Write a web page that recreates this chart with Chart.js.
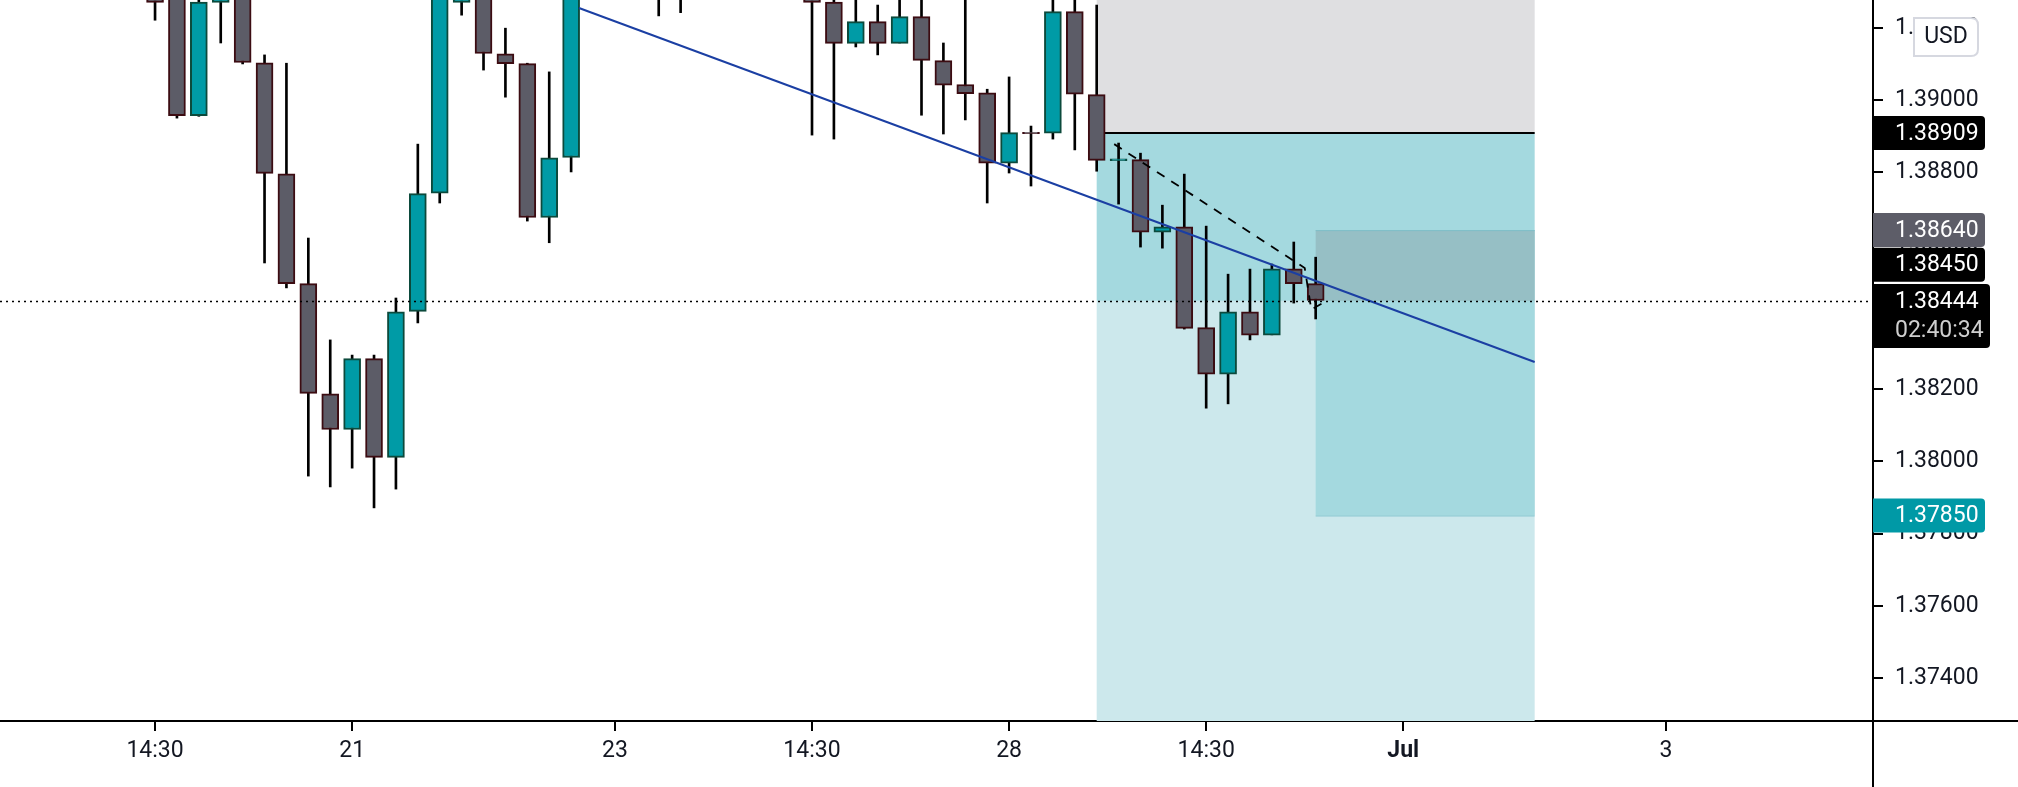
<!DOCTYPE html>
<html><head><meta charset="utf-8">
<script src="https://cdn.jsdelivr.net/npm/chart.js@4/dist/chart.umd.min.js"></script>
<style>html,body{margin:0;padding:0;background:#fff;overflow:hidden}canvas{display:block}</style>
</head><body><canvas id="c" width="2018" height="787"></canvas>
<script>
const opens  = [1.39285,1.39300,1.38958,1.39271,1.39320,1.39102,1.38795,1.38491,1.38186,1.38089,1.38283,1.38012,1.38416,1.38743,1.39271,1.39340,1.39127,1.39100,1.38676,1.38842,1.3935,1.3950,1.3960,1.3945,1.3935,1.3942,1.3950,1.3940,1.3948,1.3938,1.39290,1.39270,1.39158,1.39216,1.39158,1.39230,1.39108,1.39042,1.39019,1.38826,1.38910,1.38909,1.39244,1.39014,1.38833,1.38834,1.38635,1.38648,1.38369,1.38242,1.38413,1.38350,1.38532,1.38491];
const highs  = [1.39300,1.39320,1.39290,1.39300,1.39340,1.39125,1.39102,1.38618,1.38336,1.38294,1.38294,1.38452,1.38878,1.39320,1.39300,1.39360,1.39199,1.39102,1.39078,1.39350,1.3955,1.3965,1.3968,1.3950,1.3948,1.3958,1.3955,1.3953,1.3952,1.3945,1.3935,1.3935,1.39277,1.39263,1.39300,1.39300,1.39158,1.39290,1.39030,1.39064,1.38928,1.39300,1.39300,1.39263,1.38881,1.38853,1.38709,1.38795,1.38651,1.38518,1.38532,1.38546,1.38607,1.38565];
const lows   = [1.39221,1.38950,1.38955,1.39158,1.39100,1.38549,1.38480,1.37959,1.37929,1.37981,1.37871,1.37923,1.38383,1.38715,1.39235,1.39083,1.39008,1.38665,1.38605,1.38801,1.3930,1.3940,1.3935,1.39233,1.39242,1.3936,1.3934,1.3933,1.3930,1.3928,1.38903,1.38892,1.39147,1.39125,1.39158,1.38958,1.38906,1.38945,1.38715,1.38798,1.38762,1.38892,1.38862,1.38803,1.38712,1.38593,1.38590,1.38366,1.38147,1.38159,1.38336,1.38350,1.38438,1.38394];
const closes = [1.39271,1.38958,1.39270,1.39285,1.39105,1.38798,1.38493,1.38189,1.38089,1.38283,1.38012,1.38413,1.38740,1.39300,1.39285,1.39130,1.39102,1.38676,1.38839,1.39330,1.3950,1.3960,1.3945,1.3935,1.3942,1.3950,1.3940,1.3948,1.3938,1.3932,1.39271,1.39158,1.39216,1.39158,1.39230,1.39111,1.39042,1.39019,1.38826,1.38909,1.38908,1.39244,1.39017,1.38834,1.38836,1.38635,1.38648,1.38369,1.38242,1.38413,1.38350,1.38532,1.38493,1.38446];
const xTickPos = [0,9,21,30,39,48,57,69];
const xTickLabels = ['14:30','21','23','14:30','28','14:30','Jul','3'];
const yTicks = [1.374,1.376,1.378,1.380,1.382,1.384,1.386,1.388,1.390,1.392];
const trendX = [19.36,63.0], trendY = [1.39255,1.38275];
const dashX = [43.8,52.5,52.8,53.5], dashY = [1.38878,1.38535,1.38420,1.38444];
const posStart = 43.0, posEnd = 63.0, stopLevel = 1.39500, entryLevel = 1.38909, targetLevel = 1.37281;
const pos2Start = 53.0, pos2Top = 1.38640, pos2Bottom = 1.37850;
const currentPrice = 1.38444, countdown = '02:40:34';
const priceTags = [[1.38909,'1.38909','#000000',0],[1.38640,'1.38640','#5d5d68',0],[1.38450,'1.38450','#000000',-34],[1.37850,'1.37850','#0099a6',0]];

const idx = opens.map((_,i)=>i);
const bull = idx.map(i=>closes[i]>=opens[i]);
const FONT = 'Roboto';

function roundRect(ctx,x,y,w,h,r){ctx.beginPath();ctx.moveTo(x,y);ctx.lineTo(x+w-r,y);ctx.quadraticCurveTo(x+w,y,x+w,y+r);ctx.lineTo(x+w,y+h-r);ctx.quadraticCurveTo(x+w,y+h,x+w-r,y+h);ctx.lineTo(x,y+h);ctx.closePath();}

const bgPlugin = {
  id:'bg',
  beforeDatasetsDraw(ch){
    const {ctx, chartArea:a, scales:{x,y}} = ch;
    ctx.save();
    ctx.beginPath(); ctx.rect(a.left,a.top,a.right-a.left,a.bottom-a.top); ctx.clip();
    const x1=x.getPixelForValue(posStart), x2=x.getPixelForValue(posEnd);
    const yS=y.getPixelForValue(stopLevel), yE=y.getPixelForValue(entryLevel), yC=y.getPixelForValue(currentPrice), yT=y.getPixelForValue(targetLevel);
    ctx.fillStyle='#dfdfe1'; ctx.fillRect(x1,yS,x2-x1,yE-yS);
    ctx.fillStyle='#a4d9df'; ctx.fillRect(x1,yE,x2-x1,yC-yE);
    ctx.fillStyle='#cce8ec'; ctx.fillRect(x1,yC,x2-x1,yT-yC);
    const x3=x.getPixelForValue(pos2Start);
    const yA=y.getPixelForValue(pos2Top), yB=y.getPixelForValue(pos2Bottom);
    ctx.fillStyle='#96bfc5'; ctx.fillRect(x3,yA,x2-x3,yC-yA);
    ctx.fillStyle='#a4d9df'; ctx.fillRect(x3,yC,x2-x3,yB-yC);
    ctx.strokeStyle='rgba(120,190,200,0.8)'; ctx.lineWidth=1;
    ctx.beginPath(); ctx.moveTo(x3,yA+0.5); ctx.lineTo(x2,yA+0.5); ctx.moveTo(x3,yB+0.5); ctx.lineTo(x2,yB+0.5); ctx.stroke();
    ctx.strokeStyle='#000'; ctx.lineWidth=2;
    ctx.beginPath(); ctx.moveTo(x1,yE); ctx.lineTo(x2,yE); ctx.stroke();
    ctx.restore();
  },
  afterDatasetsDraw(ch){
    const {ctx, chartArea:a, scales:{y}} = ch;
    ctx.save();
    const yC=Math.round(y.getPixelForValue(currentPrice))+0.5;
    ctx.strokeStyle='#000'; ctx.lineWidth=1.5; ctx.setLineDash([2,4]);
    ctx.beginPath(); ctx.moveTo(0,yC); ctx.lineTo(a.right,yC); ctx.stroke();
    ctx.restore();
  },
  afterDraw(ch){
    const {ctx, chartArea:a, scales:{y}} = ch;
    ctx.save();
    ctx.font='23px '+FONT; ctx.textBaseline='middle'; ctx.textAlign='left';
    const L=a.right;
    for(const [v,t,c,dy] of priceTags){
      const py=y.getPixelForValue(v)+dy;
      ctx.fillStyle=c; roundRect(ctx,L,py-17,112,34,4); ctx.fill();
      ctx.fillStyle='#fff'; ctx.fillText(t,L+22,py+1);
    }
    const py=y.getPixelForValue(currentPrice);
    ctx.fillStyle='#000'; roundRect(ctx,L,py-17,117,64,4); ctx.fill();
    ctx.fillStyle='#fff'; ctx.fillText(currentPrice.toFixed(5),L+22,py+1);
    ctx.fillStyle='#cfcfcf'; ctx.fillText(countdown,L+22,py+30);
    ctx.fillStyle='#fff'; ctx.strokeStyle='#d6d8e0'; ctx.lineWidth=2;
    roundRect(ctx,1914,18,64,38,7); ctx.fill(); ctx.stroke();
    ctx.fillStyle='#131722'; ctx.textAlign='center'; ctx.fillText('USD',1946,37);
    ctx.strokeStyle='#000'; ctx.lineWidth=2;
    ctx.beginPath(); ctx.moveTo(a.right,a.bottom); ctx.lineTo(2018,a.bottom); ctx.moveTo(a.right,a.bottom); ctx.lineTo(a.right,787); ctx.stroke();
    ctx.restore();
  }
};

new Chart(document.getElementById('c'),{
  data:{datasets:[
    {type:'bar',data:idx.map(i=>({x:i,y:[lows[i],highs[i]]})),backgroundColor:'#000',borderWidth:0,barThickness:2,grouped:false,order:3},
    {type:'bar',data:idx.map(i=>({x:i,y:[Math.min(opens[i],closes[i])-0.00001,Math.max(opens[i],closes[i])+0.00001]})),
      backgroundColor:idx.map(i=>bull[i]?'#009ba6':'#5c5c67'),borderColor:idx.map(i=>bull[i]?'#0c4a3c':'#3c0c12'),
      borderWidth:2,borderSkipped:false,barThickness:17,grouped:false,order:2},
    {type:'line',data:trendX.map((v,i)=>({x:v,y:trendY[i]})),borderColor:'#1b3fa3',borderWidth:2,pointRadius:0,order:1},
    {type:'line',data:dashX.map((v,i)=>({x:v,y:dashY[i]})),borderColor:'#000',borderWidth:1.8,borderDash:[9,8],pointRadius:0,order:1}
  ]},
  options:{
    responsive:false,animation:false,devicePixelRatio:1,
    layout:{padding:0},
    plugins:{legend:{display:false},tooltip:{enabled:false}},
    scales:{
      x:{type:'linear',min:-7.08,max:78.45,offset:false,
        afterFit(s){s.height=66;s.paddingLeft=0;s.paddingRight=0;},
        afterBuildTicks(s){s.ticks=xTickPos.map(v=>({value:v}));},
        grid:{offset:false,drawOnChartArea:false,drawTicks:true,tickLength:10,color:'#000',lineWidth:2},
        border:{display:true,color:'#000',width:2},
        ticks:{autoSkip:false,maxRotation:0,padding:6,color:'#131722',
          callback:(v)=>xTickLabels[xTickPos.indexOf(v)],
          font:(c)=>({family:FONT,size:23,weight:(c.tick&&c.tick.label==='Jul')?'bold':'normal'})}},
      y:{type:'linear',position:'right',min:1.37281,max:1.39277,
        afterFit(s){s.width=145;s.paddingTop=0;s.paddingBottom=0;},
        afterBuildTicks(s){s.ticks=yTicks.map(v=>({value:v}));},
        grid:{offset:false,drawOnChartArea:false,drawTicks:true,tickLength:10,color:'#000',lineWidth:2},
        border:{display:true,color:'#000',width:2},
        ticks:{padding:12,color:'#131722',font:{family:FONT,size:23},callback:v=>v.toFixed(5)}}
    }
  },
  plugins:[bgPlugin]
});
</script>
</body></html>
